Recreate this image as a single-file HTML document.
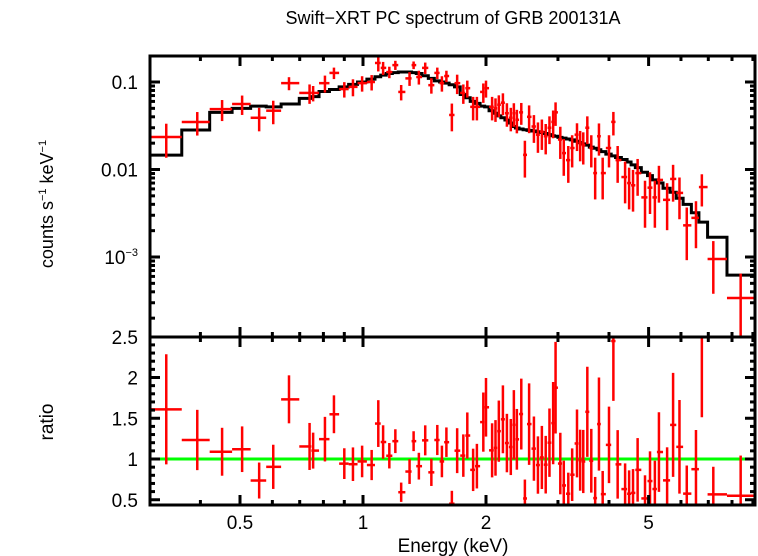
<!DOCTYPE html>
<html><head><meta charset="utf-8"><style>
html,body{margin:0;padding:0;background:#fff;}
svg{display:block;font-family:"Liberation Sans",sans-serif;}
</style></head><body>
<svg id="chart" width="758" height="556" viewBox="0 0 758 556">
<text x="453" y="24" font-size="18" text-anchor="middle">Swift−XRT PC spectrum of GRB 200131A</text>
<text transform="translate(53,204) rotate(-90)" font-size="18" text-anchor="middle">counts s<tspan font-size="11" dy="-7">−1</tspan><tspan dy="7"> keV</tspan><tspan font-size="11" dy="-7">−1</tspan></text>
<text transform="translate(53,422) rotate(-90)" font-size="19" text-anchor="middle">ratio</text>
<text x="453" y="552" font-size="19" text-anchor="middle">Energy (keV)</text>
<g id="g"></g>
</svg>
<script>
const energies=[0.33,0.393,0.452,0.506,0.557,0.603,0.659,0.74,0.755,0.807,0.849,0.90,0.945,0.995,1.05,1.09,1.12,1.16,1.2,1.24,1.3,1.33,1.37,1.42,1.47,1.52,1.56,1.6,1.65,1.70,1.76,1.80,1.86,1.90,1.97,2.0,2.07,2.11,2.15,2.2,2.25,2.3,2.34,2.38,2.44,2.49,2.55,2.62,2.68,2.74,2.8,2.86,2.92,2.96,3.04,3.1,3.18,3.25,3.34,3.4,3.46,3.54,3.62,3.7,3.78,3.86,4.0,4.1,4.2,4.38,4.48,4.58,4.7,4.9,5.04,5.18,5.3,5.55,5.74,5.95,6.2,6.53,6.75,7.2,8.4];
const flux=[0.0235,0.0349,0.049,0.056,0.039,0.047,0.097,0.075,0.075,0.097,0.127,0.083,0.088,0.097,0.1,0.165,0.145,0.13,0.156,0.077,0.11,0.156,0.114,0.145,0.092,0.127,0.097,0.117,0.042,0.097,0.075,0.085,0.052,0.052,0.077,0.085,0.052,0.05,0.055,0.058,0.044,0.039,0.044,0.037,0.045,0.0147,0.04,0.031,0.025,0.027,0.024,0.03,0.035,0.045,0.022,0.0154,0.0128,0.0176,0.025,0.020,0.019,0.030,0.0176,0.0091,0.024,0.0091,0.0176,0.035,0.0128,0.0082,0.0070,0.0066,0.0091,0.0048,0.0062,0.0048,0.0076,0.0045,0.0078,0.0054,0.0023,0.0028,0.0063,0.00095,0.00034];
const fluxErr=[0.42,0.3,0.27,0.25,0.3,0.3,0.17,0.25,0.2,0.22,0.15,0.2,0.22,0.2,0.2,0.2,0.17,0.15,0.12,0.2,0.18,0.1,0.18,0.15,0.2,0.15,0.2,0.15,0.35,0.25,0.25,0.22,0.3,0.3,0.25,0.22,0.3,0.3,0.28,0.28,0.3,0.3,0.3,0.3,0.28,0.45,0.35,0.35,0.38,0.38,0.38,0.35,0.35,0.3,0.4,0.45,0.45,0.4,0.35,0.38,0.4,0.35,0.4,0.5,0.4,0.5,0.4,0.3,0.45,0.5,0.5,0.5,0.45,0.55,0.5,0.55,0.45,0.55,0.45,0.5,0.6,0.55,0.4,0.6,0.9];
const model=[0.0146,0.0283,0.045,0.05,0.053,0.052,0.056,0.065,0.068,0.078,0.082,0.088,0.094,0.1,0.108,0.115,0.12,0.125,0.128,0.13,0.13,0.128,0.125,0.118,0.11,0.103,0.1,0.097,0.093,0.088,0.072,0.066,0.06,0.057,0.053,0.052,0.047,0.044,0.041,0.039,0.0368,0.034,0.031,0.0298,0.029,0.0285,0.028,0.0275,0.027,0.0265,0.0258,0.025,0.0243,0.024,0.0233,0.0228,0.0223,0.0218,0.021,0.0203,0.0196,0.019,0.018,0.0175,0.0168,0.016,0.015,0.0143,0.0137,0.013,0.0122,0.0113,0.0105,0.0093,0.0085,0.0076,0.007,0.0061,0.0055,0.0047,0.004,0.0032,0.0025,0.00168,0.00062];
const xTickMajor=[0.5,1,2,5];
const xTickLabels=["0.5","1","2","5"];
const xTickMinor=[0.3,0.4,0.6,0.7,0.8,0.9,3,4,6,7,8,9];
const yTickMajor=[0.1,0.01,0.001];
const yTickLabels=["0.1","0.01","10"];
const rTickMajor=[0.5,1,1.5,2,2.5];
const rTickLabels=["0.5","1","1.5","2","2.5"];

const L=150,R=755,T1=56,B1=337,T2=337,B2=505;
const X=e=>363+408.6*Math.log10(e);
const Y=f=>82-87.5*(Math.log10(f)+1);
const YR=r=>459-81.5*(r-1);
const g=document.getElementById('g');
const NS='http://www.w3.org/2000/svg';
function mk(tag,at,parent){const el=document.createElementNS(NS,tag);for(const k in at)el.setAttribute(k,at[k]);(parent||g).appendChild(el);return el;}
function clip(v,a,b){return Math.max(a,Math.min(b,v));}

const edges=[];
for(let i=0;i<=energies.length;i++){
  if(i===0)edges.push(energies[0]*energies[0]/Math.sqrt(energies[0]*energies[1]));
  else if(i===energies.length){const n=energies.length;edges.push(energies[n-1]*energies[n-1]/Math.sqrt(energies[n-1]*energies[n-2]));}
  else edges.push(Math.sqrt(energies[i-1]*energies[i]));
}

let d='';
for(let i=0;i<energies.length;i++){
  const y=clip(Y(model[i]),T1,B1);
  d+=(i===0?'M':'L')+clip(X(edges[i]),L,R)+','+y+'L'+clip(X(edges[i+1]),L,R)+','+y;
}
const mp=mk('path',{d:d,fill:'none',stroke:'#000','stroke-width':3});



const ul=mk('line',{x1:L,x2:R,y1:YR(1),y2:YR(1),stroke:'#00ff00','stroke-width':3});



for(let i=0;i<energies.length;i++){
  const x0=clip(X(edges[i]),L,R),x1=clip(X(edges[i+1]),L,R),xc=X(energies[i]);
  const f=flux[i],e=fluxErr[i];
  const grp=mk('g',{stroke:'#ff0000','stroke-width':2.5});
  
  
  const yc=Y(f),yt=clip(Y(f*(1+e)),T1,B1),yb=clip(Y(Math.max(f*(1-e),1e-6)),T1,B1);
  mk('line',{x1:x0,x2:x1,y1:yc,y2:yc},grp);
  mk('line',{x1:xc,x2:xc,y1:yt,y2:yb},grp);
  const r=f/model[i];
  const rg=mk('g',{stroke:'#ff0000','stroke-width':2.5});
  
  
  const ry=YR(r);
  if(ry>=T2&&ry<=B2)mk('line',{x1:x0,x2:x1,y1:ry,y2:ry},rg);
  mk('line',{x1:xc,x2:xc,y1:clip(YR(r*(1+e)),T2,B2),y2:clip(YR(r*(1-e)),T2,B2)},rg);
}

for(const [t,b,n] of [[T1,B1,'spectrum-panel-frame'],[T2,B2,'ratio-panel-frame']]){
  const fr=mk('rect',{x:L,y:t,width:R-L,height:b-t,fill:'none',stroke:'#000','stroke-width':3});
  
  
}
function xt(e,len){
  for(const [t,b] of [[T1,B1],[T2,B2]]){
    mk('line',{x1:X(e),x2:X(e),y1:t,y2:t+len,stroke:'#000','stroke-width':3});
    mk('line',{x1:X(e),x2:X(e),y1:b,y2:b-len,stroke:'#000','stroke-width':3});
  }
}
xTickMajor.forEach(e=>xt(e,10));
xTickMinor.forEach(e=>{if(X(e)>L+2&&X(e)<R-2)xt(e,5);});
xTickMajor.forEach((e,i)=>{
  const t=mk('text',{x:X(e),y:529,'font-size':19,'text-anchor':'middle'});
  t.textContent=xTickLabels[i];
  
  
});
function yt(y,len){
  mk('line',{x1:L,x2:L+len,y1:y,y2:y,stroke:'#000','stroke-width':3});
  mk('line',{x1:R,x2:R-len,y1:y,y2:y,stroke:'#000','stroke-width':3});
}
for(let dec=-4;dec<=-1;dec++){
  for(let m=1;m<10;m++){
    const v=m*Math.pow(10,dec),y=Y(v);
    if(y<T1+1||y>B1-1)continue;
    yt(y,m===1?10:5);
  }
}
yTickMajor.forEach((v,i)=>{
  const t=mk('text',{x:138,y:Y(v)+7,'font-size':19,'text-anchor':'end'});
  t.textContent=yTickLabels[i];
  if(v===0.001){const s=document.createElementNS(NS,'tspan');s.setAttribute('font-size','11');s.setAttribute('dy','-8');s.textContent='−3';t.appendChild(s);}
  
  
});
for(let k=5;k<=25;k++){
  const r=k/10,y=YR(r);
  if(y<T2||y>B2)continue;
  yt(y,k%5===0?10:5);
}
rTickMajor.forEach((v,i)=>{
  const t=mk('text',{x:138,y:YR(v)+7,'font-size':19,'text-anchor':'end'});
  t.textContent=rTickLabels[i];
  
  
});
</script>
</body></html>
